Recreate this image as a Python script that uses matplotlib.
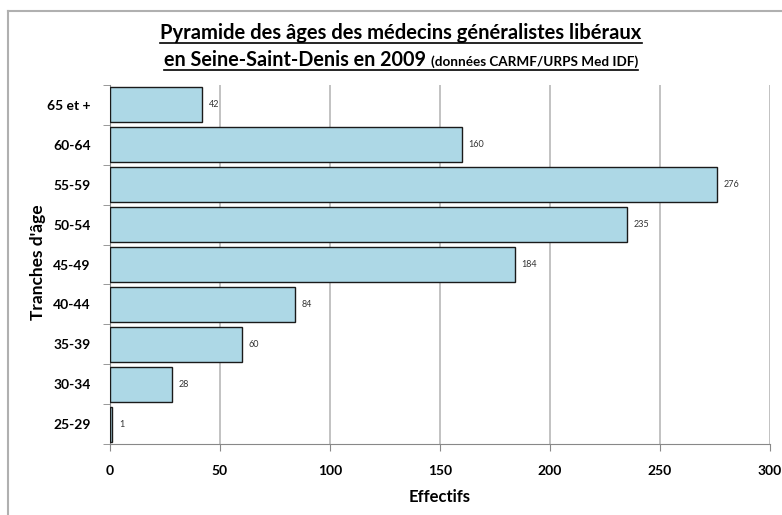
import matplotlib
matplotlib.use("Agg")
import matplotlib.pyplot as plt
from matplotlib.lines import Line2D

categories = ["25-29", "30-34", "35-39", "40-44", "45-49", "50-54", "55-59", "60-64", "65 et +"]
values = [1, 28, 60, 84, 184, 235, 276, 160, 42]
xticks = [0, 50, 100, 150, 200, 250, 300]

plt.rcParams['font.family'] = ['Lato', 'DejaVu Sans']

W, H = 782, 515
fig = plt.figure(figsize=(W / 100, H / 100), dpi=100)

# outer border
fig.add_artist(Line2D([8 / W, 8 / W], [0, 1 - 11 / H], color="#b0b0b0", lw=1.5, transform=fig.transFigure))
fig.add_artist(Line2D([8 / W, 1], [1 - 11 / H, 1 - 11 / H], color="#b0b0b0", lw=1.5, transform=fig.transFigure))

ax = fig.add_axes([110 / W, 1 - 444 / H, 660 / W, 359 / H])
y = list(range(len(categories)))
ax.barh(y, values, height=0.88, color="#add8e6", edgecolor="#1a1a1a", linewidth=1.0, zorder=3)
ax.set_xlim(0, 300)
ax.set_ylim(-0.5, len(categories) - 0.5)
ax.set_xticks(xticks)
ax.set_xticklabels([str(t) for t in xticks], fontsize=10, fontweight="bold")
ax.set_yticks(y)
ax.set_yticklabels(categories, fontsize=10, fontweight="bold")
ax.tick_params(axis="y", length=0, pad=14)
ax.tick_params(axis="x", length=5, color="#888888", pad=10)
ax.set_yticks([i - 0.5 for i in range(len(categories) + 1)], minor=True)
ax.tick_params(axis="y", which="minor", length=5, color="#888888")
ax.grid(axis="x", color="#b8b8b8", linewidth=1.2, zorder=0)
for s in ["top", "right"]:
    ax.spines[s].set_visible(False)
ax.spines["left"].set_color("#888888")
ax.spines["bottom"].set_color("#888888")

for yi, v in zip(y, values):
    ax.text(v + 3, yi, str(v), va="center", ha="left", fontsize=6.5, color="#333333")

fig.text(440 / W, 1 - 497 / H, "Effectifs", ha="center", va="center", fontsize=12, fontweight="bold")
fig.text(38 / W, 1 - 262 / H, "Tranches d'âge", ha="center", va="center", rotation=90,
         fontsize=12.5, fontweight="bold")

# title with underline
t1 = fig.text(401 / W, 1 - 39 / H, "Pyramide des âges des médecins généralistes libéraux",
              ha="center", va="baseline", fontsize=14.5, fontweight="bold")
t2a = fig.text(0, 1 - 66 / H, "en Seine-Saint-Denis en 2009", ha="left", va="baseline",
               fontsize=14.2, fontweight="bold")
t2b = fig.text(0, 1 - 66 / H, "(données CARMF/URPS Med IDF)", ha="left", va="baseline",
               fontsize=9.7, fontweight="bold")
fig.canvas.draw()
r = fig.canvas.get_renderer()
ea = t2a.get_window_extent(r)
eb = t2b.get_window_extent(r)
gap = 5
total = ea.width + gap + eb.width
x0 = 401 - total / 2
t2a.set_x(x0 / W)
t2b.set_x((x0 + ea.width + gap) / W)
fig.canvas.draw()
e1 = t1.get_window_extent(r)
ea = t2a.get_window_extent(r)
eb = t2b.get_window_extent(r)
u1 = H - 43
fig.add_artist(Line2D([e1.x0 / W, e1.x1 / W], [u1 / H, u1 / H], color="black", lw=1.2, transform=fig.transFigure))
u2 = H - 70
fig.add_artist(Line2D([ea.x0 / W, eb.x1 / W], [u2 / H, u2 / H], color="black", lw=1.2, transform=fig.transFigure))

fig.savefig("out.png", dpi=100)
